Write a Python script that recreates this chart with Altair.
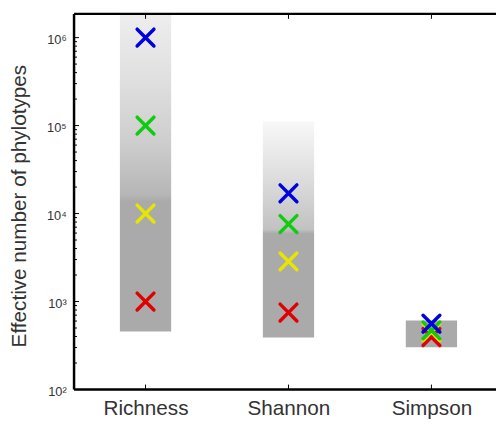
import altair as alt
import pandas as pd

categories = ["Richness", "Shannon", "Simpson"]
bar_low = [455, 390, 303]
bar_high = [1.86e6, 1.12e5, 608]

series = ["red", "yellow", "green", "blue"]
series_colors = ["#e00000", "#e6e600", "#10cc10", "#0000e0"]
richness_vals = [1000, 10000, 100000, 1000000]
shannon_vals = [750, 2860, 7600, 17000]
simpson_vals = [395, 450, 470, 560]

y_major = [1e2, 1e3, 1e4, 1e5, 1e6]
y_minor = [m * 10 ** k for k in range(2, 6) for m in range(2, 10)]

W, H = 428, 381
FONT = "Liberation Sans"

bars_df = pd.DataFrame({"cat": categories, "lo": bar_low, "hi": bar_high})
rows = []
for cat, vals in zip(categories, [richness_vals, shannon_vals, simpson_vals]):
    for s, v in zip(series, vals):
        rows.append({"cat": cat, "series": s, "value": v})
pts_df = pd.DataFrame(rows)
major_df = pd.DataFrame({"v": y_major})
minor_df = pd.DataFrame({"v": y_minor})
one_df = pd.DataFrame({"a": [0]})

yscale = alt.Scale(type="log", domain=[100, 1.86e6], nice=False)
yaxis = alt.Axis(
    values=y_major,
    labelExpr="'10' + ['⁰','¹','²','³','⁴','⁵','⁶'][round(log(datum.value)/LN10)]",
    ticks=False, domain=False, grid=False,
    labelFont=FONT, labelFontSize=13, labelColor="#333", labelPadding=8,
    labelBaseline="middle", labelOffset=2,
    title="Effective number of phylotypes",
    titleFont=FONT, titleFontSize=21, titleFontWeight="normal", titleColor="#333",
    titleX=-55, titleY=H / 2 + 4, titleAngle=-90, titleBaseline="middle", titleAlign="center",
)
xscale = alt.Scale(type="point", domain=categories, range=[72.5, 362.5], padding=0)
xaxis = alt.Axis(
    ticks=False, domain=False, grid=False, labelAngle=0,
    labelFont=FONT, labelFontSize=21, labelColor="#333", labelPadding=8,
)
X = alt.X("cat:N", scale=xscale, axis=xaxis, title=None)


def grad(stops):
    return alt.Gradient(
        gradient="linear",
        stops=[alt.GradientStop(offset=o, color=c) for o, c in stops],
        x1=0, x2=0, y1=0, y2=1,
    )


grads = [
    grad([(0, "#eeeeee"), (0.2, "#e0e0e0"), (0.4, "#cecece"), (0.57, "#b6b6b6"), (0.59, "#aaaaaa"), (1, "#aaaaaa")]),
    grad([(0, "#f8f8f8"), (0.2, "#e4e4e4"), (0.5, "#c2c2c2"), (0.52, "#aaaaaa"), (1, "#aaaaaa")]),
    grad([(0, "#aaaaaa"), (1, "#aaaaaa")]),
]

layers = []
for cat, g in zip(categories, grads):
    layers.append(
        alt.Chart(bars_df).transform_filter(alt.datum.cat == cat)
        .mark_bar(size=52, color=g)
        .encode(x=X, y=alt.Y("lo:Q", scale=yscale, axis=yaxis), y2="hi:Q")
    )

points = alt.Chart(pts_df).mark_point(
    shape="M-1,-1L1,1M-1,1L1,-1", size=290, filled=False, strokeWidth=3.5, strokeCap="round", opacity=1
).encode(
    x=X,
    y=alt.Y("value:Q", scale=yscale, axis=yaxis),
    color=alt.Color("series:N", scale=alt.Scale(domain=series, range=series_colors), legend=None),
)
layers.append(points)

major_ticks = alt.Chart(major_df).mark_rule(color="black", strokeWidth=1).encode(
    y=alt.Y("v:Q", scale=yscale, axis=yaxis), x=alt.value(0), x2=alt.value(5)
)
minor_ticks = alt.Chart(minor_df).mark_rule(color="black", strokeWidth=1).encode(
    y=alt.Y("v:Q", scale=yscale, axis=yaxis), x=alt.value(0), x2=alt.value(3)
)
top_ticks = alt.Chart(bars_df).mark_rule(color="black", strokeWidth=1).encode(
    x=X, y=alt.value(0), y2=alt.value(5)
)
bot_ticks = alt.Chart(bars_df).mark_rule(color="black", strokeWidth=1).encode(
    x=X, y=alt.value(H), y2=alt.value(H - 5)
)
frame_left = alt.Chart(one_df).mark_rule(color="black", strokeWidth=2.5).encode(
    x=alt.value(0), y=alt.value(0), y2=alt.value(H)
)
frame_top = alt.Chart(one_df).mark_rule(color="black", strokeWidth=2.5).encode(
    y=alt.value(0), x=alt.value(0), x2=alt.value(W + 10)
)
frame_bot = alt.Chart(one_df).mark_rule(color="black", strokeWidth=2.5).encode(
    y=alt.value(H), x=alt.value(0), x2=alt.value(W + 10)
)
layers += [major_ticks, minor_ticks, top_ticks, bot_ticks, frame_left, frame_top, frame_bot]

chart = alt.layer(*layers).properties(
    width=W, height=H,
    autosize=alt.AutoSizeParams(type="none"),
    padding={"left": 67, "top": 3, "right": 0, "bottom": 30},
).configure_view(stroke=None).configure(background="white")

chart.save("out.html", embed_options={"renderer": "svg", "actions": False})
